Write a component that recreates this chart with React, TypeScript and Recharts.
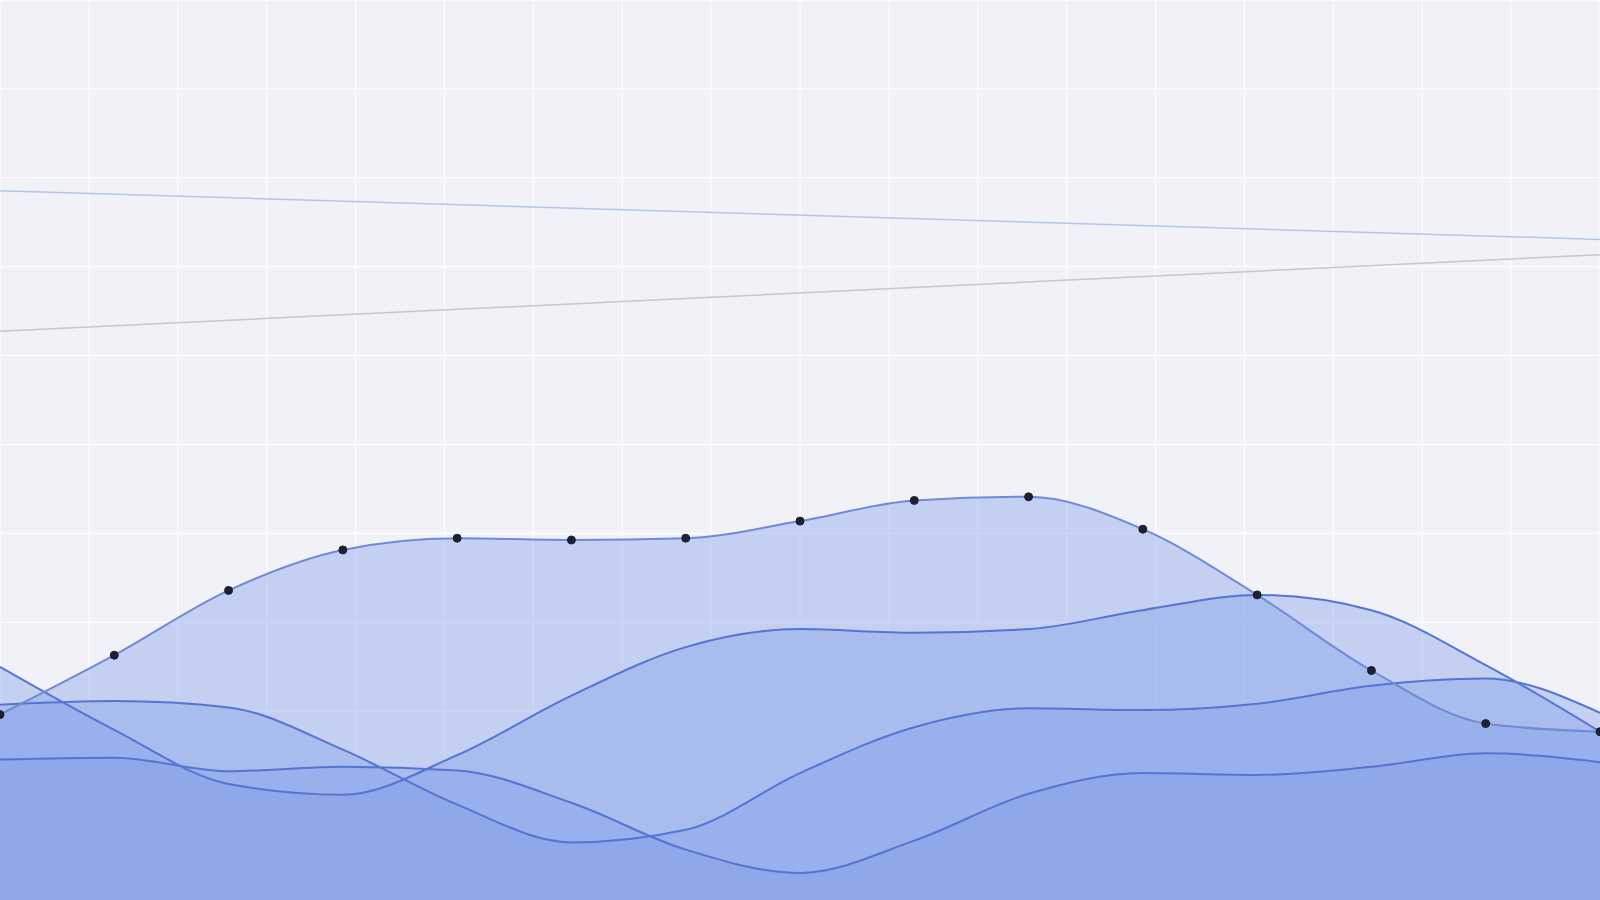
import React from 'react'
import {
  ComposedChart, Area, Line, XAxis, YAxis, CartesianGrid,
} from 'recharts'

// 15 sample points along x
const categories = ['1', '2', '3', '4', '5', '6', '7', '8', '9', '10', '11', '12', '13', '14', '15']

// main series (the one with dots) and the three under it
const seriesA = [20.6, 27.2, 34.4, 38.9, 40.2, 40.0, 40.2, 42.1, 44.4, 44.8, 41.2, 33.9, 25.5, 19.6, 18.7]
const seriesB = [25.9, 18.9, 12.9, 11.7, 16.1, 22.7, 28.1, 30.1, 29.7, 30.1, 32.2, 33.9, 32.2, 26.1, 18.7]
const seriesC = [21.7, 22.1, 21.4, 16.7, 10.6, 6.4, 7.8, 14.1, 19.2, 21.3, 21.1, 21.8, 23.8, 24.6, 20.8]
const seriesD = [15.6, 15.8, 14.3, 14.8, 14.4, 10.8, 5.6, 3.0, 6.6, 11.8, 14.1, 13.9, 14.8, 16.3, 15.3]

// straight trend lines: start and end values
const trendBlue = [78.8, 73.4]
const trendGray = [63.2, 71.7]

// background grid (square cells, 18 across)
const GRID_COLS = 18
const gridTicksX = [0, 1, 2, 3, 4, 5, 6, 7, 8, 9, 10, 11, 12, 13, 14, 15, 16, 17, 18]
const gridTicksY = [0, 1, 2, 3, 4, 5, 6, 7, 8, 9, 10]

const last = categories.length - 1
const data = categories.map((cat, i) => ({
  cat,
  a: seriesA[i],
  b: seriesB[i],
  c: seriesC[i],
  d: seriesD[i],
  blue: i === 0 ? trendBlue[0] : i === last ? trendBlue[1] : null,
  gray: i === 0 ? trendGray[0] : i === last ? trendGray[1] : null,
}))

const FILL = '#809de8'
const STROKE = '#5574d4'

const common = { yAxisId: 'val', isAnimationActive: false, activeDot: false } as const

export default function App() {
  return (
    <div style={{ position: 'absolute', left: 0, top: 0, width: 1600, height: 900, background: '#f0f2f7' }}>
      <ComposedChart width={1600} height={900} data={data} margin={{ top: 0, right: 0, bottom: 0, left: 0 }}>
        <XAxis dataKey="cat" scale="point" hide />
        {/* grid y axis (default id, used by CartesianGrid) */}
        <YAxis type="number" domain={[0, 10.125]} ticks={gridTicksY} reversed allowDataOverflow hide />
        <YAxis yAxisId="val" domain={[0, 100]} allowDataOverflow hide />
        <CartesianGrid
          stroke="#ffffff"
          strokeWidth={1}
          verticalCoordinatesGenerator={({ offset }: any) =>
            gridTicksX.map(t => offset.left + (t / GRID_COLS) * offset.width)
          }
        />

        <Line {...common} type="linear" dataKey="blue" stroke="#b5c4ec" strokeWidth={1.5} dot={false} connectNulls />
        <Line {...common} type="linear" dataKey="gray" stroke="#c5c7cc" strokeWidth={1.5} dot={false} connectNulls />

        <Area {...common} type="monotone" dataKey="d" stroke="none" fill={FILL} fillOpacity={0.4} />
        <Area {...common} type="monotone" dataKey="c" stroke="none" fill={FILL} fillOpacity={0.4} />
        <Area {...common} type="monotone" dataKey="b" stroke="none" fill={FILL} fillOpacity={0.4} />
        <Area {...common} type="monotone" dataKey="a" stroke="none" fill={FILL} fillOpacity={0.4} />

        <Line {...common} type="monotone" dataKey="d" stroke={STROKE} strokeWidth={2} dot={false} />
        <Line {...common} type="monotone" dataKey="c" stroke={STROKE} strokeWidth={2} dot={false} />
        <Line {...common} type="monotone" dataKey="b" stroke={STROKE} strokeWidth={2} dot={false} />
        <Line
          {...common}
          type="monotone"
          dataKey="a"
          stroke="#7089d9"
          strokeWidth={2}
          dot={{ r: 4, fill: '#1c2030', stroke: '#1c2030', strokeWidth: 1 }}
        />
      </ComposedChart>
    </div>
  )
}
